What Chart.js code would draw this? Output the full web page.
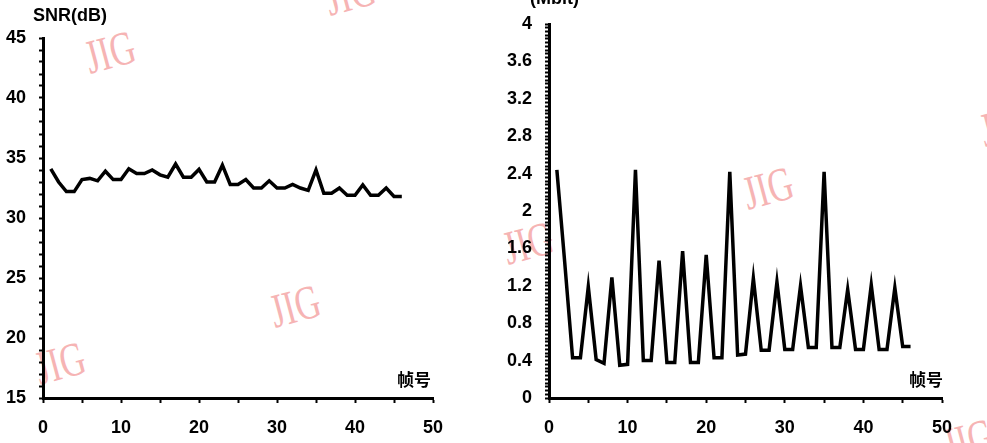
<!DOCTYPE html>
<html>
<head>
<meta charset="utf-8">
<script src="https://cdn.jsdelivr.net/npm/chart.js@4.4.1/dist/chart.umd.min.js"></script>
<style>
body { margin: 0; background: #fff; }
#page { position: relative; width: 987px; height: 443px; overflow: hidden; background: #fff; }
canvas { position: absolute; top: 0; z-index: 2; }
.txt { position: absolute; z-index: 3; font-family: "Liberation Sans", Arial, sans-serif; font-weight: bold; font-size: 18px; line-height: 18px; color: #000; white-space: nowrap; }
.cjk { position: absolute; z-index: 3; font-family: "Noto Sans CJK SC", sans-serif; font-weight: bold; font-size: 17px; line-height: 17px; color: #000; white-space: nowrap; }
.wm { position: absolute; z-index: 1; font-family: "Liberation Serif", serif; font-size: 48px; line-height: 48px; color: #f6b4b4; white-space: nowrap;
      transform: translate(-50%, -50%) rotate(-15deg) scaleX(0.72); }
</style>
</head>
<body>
<div id="page">
  <div class="wm" style="left:110px; top:52px;">JIG</div>
  <div class="wm" style="left:350px; top:-6px;">JIG</div>
  <div class="wm" style="left:295px; top:306px;">JIG</div>
  <div class="wm" style="left:60px; top:363px;">JIG</div>
  <div class="wm" style="left:768px; top:188px;">JIG</div>
  <div class="wm" style="left:1005px; top:125px;">JIG</div>
  <div class="wm" style="left:528px; top:243px;">JIG</div>
  <div class="wm" style="left:968px; top:440px;">JIG</div>

  <canvas id="snrChart" width="490" height="443" style="left:0px;"></canvas>
  <canvas id="bitChart" width="497" height="443" style="left:490px;"></canvas>

  <div class="txt" style="left:33px; top:6px;">SNR(dB)</div>
  <div class="txt" style="left:530px; top:-11px;">(Mbit)</div>
  <div class="cjk" style="left:397px; top:370px;">帧号</div>
  <div class="cjk" style="left:909px; top:370px;">帧号</div>
</div>

<script>
// frame numbers (x axis)
const frames = [1, 2, 3, 4, 5, 6, 7, 8, 9, 10, 11, 12, 13, 14, 15, 16, 17, 18, 19, 20, 21, 22, 23,
    24, 25, 26, 27, 28, 29, 30, 31, 32, 33, 34, 35, 36, 37, 38, 39, 40, 41, 42, 43, 44, 45, 46];

// left chart: SNR (dB)
const snrValues = [34.1, 33.0, 32.2, 32.2, 33.2, 33.3, 33.1, 33.9, 33.2, 33.2, 34.1, 33.7, 33.7,
    34.0, 33.6, 33.4, 34.5, 33.4, 33.4, 34.05, 33.0, 33.0, 34.4, 32.8, 32.8, 33.2, 32.5, 32.5,
    33.1, 32.5, 32.5, 32.8, 32.5, 32.3, 34.0, 32.06, 32.06, 32.5, 31.9, 31.9, 32.75, 31.9, 31.9,
    32.5, 31.8, 31.8];

// right chart: bits per frame (Mbit)
const bitValues = [2.44, 1.45, 0.43, 0.43, 1.19, 0.41, 0.37, 1.29, 0.35, 0.36, 2.44, 0.40, 0.40,
    1.47, 0.38, 0.38, 1.57, 0.38, 0.38, 1.53, 0.43, 0.43, 2.42, 0.46, 0.47, 1.28, 0.51, 0.51,
    1.24, 0.52, 0.52, 1.20, 0.54, 0.54, 2.42, 0.54, 0.54, 1.16, 0.52, 0.52, 1.21, 0.52, 0.52,
    1.18, 0.55, 0.55];

// tick labels
const xTickLabels = [0, 10, 20, 30, 40, 50];
const snrTickLabels = [15, 20, 25, 30, 35, 40, 45];
const bitTickLabels = [0, 0.4, 0.8, 1.2, 1.6, 2, 2.4, 2.8, 3.2, 3.6, 4];

const tickFont = { family: '"Liberation Sans", Arial, sans-serif', size: 18, weight: 'bold' };

function labelFor(list, v) {
    const hit = list.find(t => Math.abs(t - v) < 1e-6);
    return hit === undefined ? '' : String(hit);
}

function makeChart(id, values, yMin, yMax, yStep, yLabels, yWidth, padTop, padRight) {
    return new Chart(document.getElementById(id), {
        type: 'scatter',
        data: {
            datasets: [{
                data: frames.map((f, i) => ({ x: f, y: values[i] })),
                showLine: true,
                borderColor: '#000',
                borderWidth: 3.5,
                pointRadius: 0,
                tension: 0,
                fill: false
            }]
        },
        options: {
            responsive: false,
            animation: false,
            layout: { padding: { top: padTop, right: padRight, left: 0, bottom: 0 } },
            plugins: { legend: { display: false }, tooltip: { enabled: false } },
            scales: {
                x: {
                    type: 'linear',
                    min: 0,
                    max: 50,
                    ticks: {
                        stepSize: 5,
                        autoSkip: false,
                        maxRotation: 0,
                        padding: 14,
                        color: '#000',
                        font: tickFont,
                        callback: v => labelFor(xTickLabels, v)
                    },
                    grid: { drawOnChartArea: false, tickLength: 5, tickColor: '#000', tickWidth: 2 },
                    border: { color: '#000', width: 3 },
                    afterFit: s => { s.height = 45; }
                },
                y: {
                    min: yMin,
                    max: yMax,
                    ticks: {
                        stepSize: yStep,
                        autoSkip: false,
                        padding: 13,
                        color: '#000',
                        font: tickFont,
                        callback: v => labelFor(yLabels, v)
                    },
                    grid: { drawOnChartArea: false, tickLength: 4, tickColor: '#000', tickWidth: 2 },
                    border: { color: '#000', width: 3 },
                    afterFit: s => { s.width = yWidth; }
                }
            }
        }
    });
}

makeChart('snrChart', snrValues, 15, 45, 1, snrTickLabels, 43, 38, 57);
makeChart('bitChart', bitValues, 0, 4, 0.04, bitTickLabels, 59, 24, 45);
</script>
</body>
</html>
